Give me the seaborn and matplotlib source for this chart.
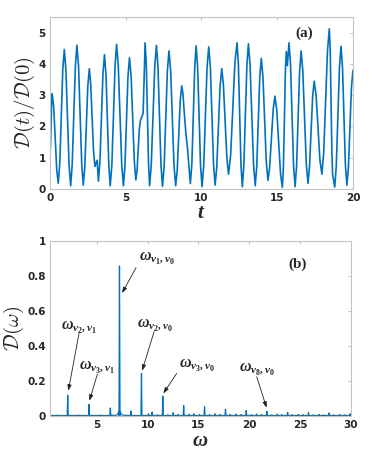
import numpy as np
import pandas as pd
import seaborn as sns
import matplotlib
matplotlib.use("Agg")
import matplotlib.pyplot as plt

# ---- panel (a): D(t)/D(0) ----
t_vals = [0.00, 0.04, 0.11, 0.15, 0.25, 0.45, 0.55, 0.65, 0.85, 0.95,
          1.055, 1.265, 1.37, 1.47, 1.68, 1.78, 1.89, 2.10, 2.20, 2.30,
          2.50, 2.60, 2.69, 2.88, 2.97, 3.12, 3.20, 3.30, 3.50, 3.60,
          3.70, 3.89, 3.98, 4.09, 4.30, 4.40, 4.51, 4.74, 4.85, 4.95,
          5.15, 5.25, 5.36, 5.57, 5.67, 5.75, 5.90, 5.98, 6.15, 6.21,
          6.28, 6.36, 6.51, 6.58, 6.69, 6.92, 7.03, 7.13, 7.33, 7.43,
          7.54, 7.75, 7.86, 7.97, 8.19, 8.30, 8.40, 8.60, 8.70, 8.78,
          8.88, 8.98, 9.07, 9.17, 9.27, 9.37, 9.56, 9.65, 9.75, 9.94,
          10.04, 10.15, 10.37, 10.48, 10.59, 10.80, 10.90, 11.01, 11.23, 11.34,
          11.45, 11.68, 11.79, 11.93, 12.21, 12.35, 12.44, 12.61, 12.70, 12.80,
          13.00, 13.10, 13.21, 13.44, 13.55, 13.65, 13.85, 13.95, 14.06, 14.28,
          14.39, 14.50, 14.74, 14.85, 14.97, 15.22, 15.34, 15.41, 15.54, 15.60,
          15.67, 15.78, 15.88, 16.08, 16.18, 16.28, 16.48, 16.58, 16.69, 16.92,
          17.03, 17.13, 17.34, 17.44, 17.57, 17.82, 17.95, 18.07, 18.32, 18.44,
          18.50, 18.61, 18.66, 18.72, 18.80, 18.90, 19.11, 19.21, 19.31, 19.50,
          19.60, 19.70, 19.90, 20.00]
d_vals = [1.00, 1.35, 2.75, 3.05, 2.62, 0.61, 0.18, 0.82, 3.83, 4.47,
          3.81, 0.76, 0.10, 0.78, 3.93, 4.60, 3.93, 0.79, 0.12, 0.68,
          3.29, 3.85, 3.38, 1.19, 0.72, 0.92, 0.25, 0.86, 3.69, 4.30,
          3.67, 0.73, 0.10, 0.78, 3.95, 4.63, 3.95, 0.78, 0.10, 0.72,
          3.59, 4.20, 3.61, 0.88, 0.29, 0.58, 1.91, 2.20, 2.42, 3.40,
          4.68, 3.99, 0.79, 0.10, 0.78, 3.93, 4.60, 3.92, 0.76, 0.08,
          0.73, 3.77, 4.42, 3.77, 0.75, 0.10, 0.58, 2.82, 3.30, 3.05,
          2.35, 1.75, 1.35, 0.75, 0.17, 0.83, 3.92, 4.58, 3.90, 0.75,
          0.07, 0.74, 3.88, 4.55, 3.89, 0.78, 0.12, 0.68, 3.29, 3.85,
          3.34, 0.98, 0.47, 1.10, 4.05, 4.68, 3.99, 0.76, 0.07, 0.76,
          3.96, 4.65, 3.97, 0.78, 0.10, 0.71, 3.57, 4.18, 3.59, 0.86,
          0.27, 0.68, 2.57, 2.97, 2.53, 0.49, 0.05, 0.70, 3.75, 4.40,
          3.95, 4.68, 3.99, 0.76, 0.07, 0.72, 3.77, 4.42, 3.78, 0.82,
          0.18, 0.67, 2.96, 3.45, 3.00, 0.92, 0.47, 1.17, 4.43, 5.13,
          4.43, 1.15, 0.45, 0.28, 0.06, 0.74, 3.89, 4.57, 3.90, 0.79,
          0.12, 0.67, 3.25, 3.80]

# ---- panel (b): spectrum D(omega) ----
peak_w = [1.10, 2.15, 3.20, 4.25, 5.30, 6.34, 7.24, 8.37, 9.40, 10.10,
          10.45, 11.00, 11.50, 12.00, 12.52, 13.00, 13.55, 14.10, 14.55, 15.10,
          15.60, 16.10, 16.62, 17.10, 17.66, 18.10, 18.68, 19.20, 19.70, 20.20,
          20.72, 21.20, 21.73, 22.20, 22.75, 23.20, 23.77, 24.20, 24.80, 25.30,
          25.82, 26.30, 26.85, 27.30, 27.85, 28.30, 28.88, 29.40, 29.90]
peak_h = [0.004, 0.118, 0.005, 0.065, 0.005, 0.045, 0.855, 0.027, 0.242, 0.012,
          0.022, 0.006, 0.112, 0.006, 0.018, 0.008, 0.058, 0.010, 0.012, 0.008,
          0.052, 0.008, 0.012, 0.008, 0.038, 0.008, 0.010, 0.008, 0.030, 0.007,
          0.010, 0.008, 0.025, 0.006, 0.010, 0.007, 0.020, 0.007, 0.008, 0.007,
          0.018, 0.006, 0.008, 0.006, 0.016, 0.006, 0.008, 0.006, 0.012]
hump_w = [6.95, 7.08, 7.16, 7.32, 7.40, 7.55]
hump_h = [0.004, 0.010, 0.025, 0.025, 0.010, 0.004]
base_w = [0.40, 30.0]
base_h = [0.002, 0.002]

labels = [r'\omega_{\nu_2,\nu_1}', r'\omega_{\nu_3,\nu_1}', r'\omega_{\nu_1,\nu_0}',
          r'\omega_{\nu_2,\nu_0}', r'\omega_{\nu_3,\nu_0}', r'\omega_{\nu_8,\nu_0}']
label_xy = [(3.25, 0.51), (5.05, 0.28), (10.9, 0.90), (10.75, 0.52), (14.85, 0.29), (20.75, 0.27)]
arrow_tail = [(3.26, 0.47), (5.07, 0.238), (8.87, 0.846), (10.64, 0.48), (12.86, 0.242), (20.73, 0.223)]
arrow_head = [(2.21, 0.143), (4.28, 0.086), (7.49, 0.70), (9.46, 0.257), (11.55, 0.128), (21.7, 0.046)]

blue = '#0072BD'
sns.set_style('white')
plt.rcParams['font.family'] = ['DejaVu Sans']
plt.rcParams['mathtext.fontset'] = 'custom'
plt.rcParams['mathtext.it'] = 'Liberation Serif:italic:bold'
plt.rcParams['mathtext.rm'] = 'Liberation Serif:bold'
plt.rcParams['mathtext.bf'] = 'Liberation Serif:bold'

fig = plt.figure(figsize=(3.9, 4.53), dpi=100)
ax1 = fig.add_axes([0.128, 0.583, 0.777, 0.379])
ax2 = fig.add_axes([0.128, 0.082, 0.772, 0.387])

df_a = pd.DataFrame({'t': t_vals, 'D': d_vals})
sns.lineplot(data=df_a, x='t', y='D', ax=ax1, color=blue, lw=1.2, estimator=None)

# build spike line from the peak readings
dw = 0.05
sw, sh = list(base_w) + list(hump_w), list(base_h) + list(hump_h)
for w, h in zip(peak_w, peak_h):
    sw += [w - dw, w, w + dw]
    sh += [0.002, h, 0.002]
df_b = pd.DataFrame({'w': sw, 'D': sh}).sort_values('w')
sns.lineplot(data=df_b, x='w', y='D', ax=ax2, color=blue, lw=0.9, estimator=None, sort=False)

ax1.set_xlim(0, 20)
ax1.set_ylim(0, 5.5)
ax1.set_xticks([0, 5, 10, 15, 20])
ax1.set_yticks([0, 1, 2, 3, 4, 5])
ax1.set_xlabel(r'$t$', fontsize=15, labelpad=-1)
ax1.set_ylabel(r'$\mathcal{D}(t)/\mathcal{D}(0)$', fontsize=15, labelpad=1, math_fontfamily='cm')
ax1.text(16.8, 5.0, '(a)', fontsize=11, ha='center', va='center',
         family='Liberation Serif', weight='bold')

ax2.set_xlim(0.4, 30)
ax2.set_ylim(0, 1)
ax2.set_xticks([5, 10, 15, 20, 25, 30])
ax2.set_yticks([0, 0.2, 0.4, 0.6, 0.8, 1])
ax2.set_yticklabels(['0', '0.2', '0.4', '0.6', '0.8', '1'])
ax2.set_xlabel(r'$\omega$', fontsize=15, labelpad=0)
ax2.set_ylabel(r'$\mathcal{D}(\omega)$', fontsize=15, labelpad=1, math_fontfamily='cm')
ax2.text(24.7, 0.865, '(b)', fontsize=11, ha='center', va='center',
         family='Liberation Serif', weight='bold')

for lab, pos, tail, head in zip(labels, label_xy, arrow_tail, arrow_head):
    ax2.text(pos[0], pos[1], '$' + lab + '$', fontsize=11.5, ha='center', va='center')
    ax2.annotate('', xy=head, xytext=tail,
                 arrowprops=dict(arrowstyle='-|>,head_length=0.35,head_width=0.12',
                                 color='#222222', lw=0.6, shrinkA=0, shrinkB=0))

for ax in (ax1, ax2):
    for sp in ax.spines.values():
        sp.set_color('#c4c4c4')
        sp.set_linewidth(0.8)
    ax.tick_params(direction='in', length=2.5, width=0.6, color='#b5b5b5',
                   top=True, right=True, labelsize=7.5, labelcolor='#262626', pad=3)
    for lbl in ax.get_xticklabels() + ax.get_yticklabels():
        lbl.set_fontweight('bold')

fig.savefig('out.png', dpi=100)
